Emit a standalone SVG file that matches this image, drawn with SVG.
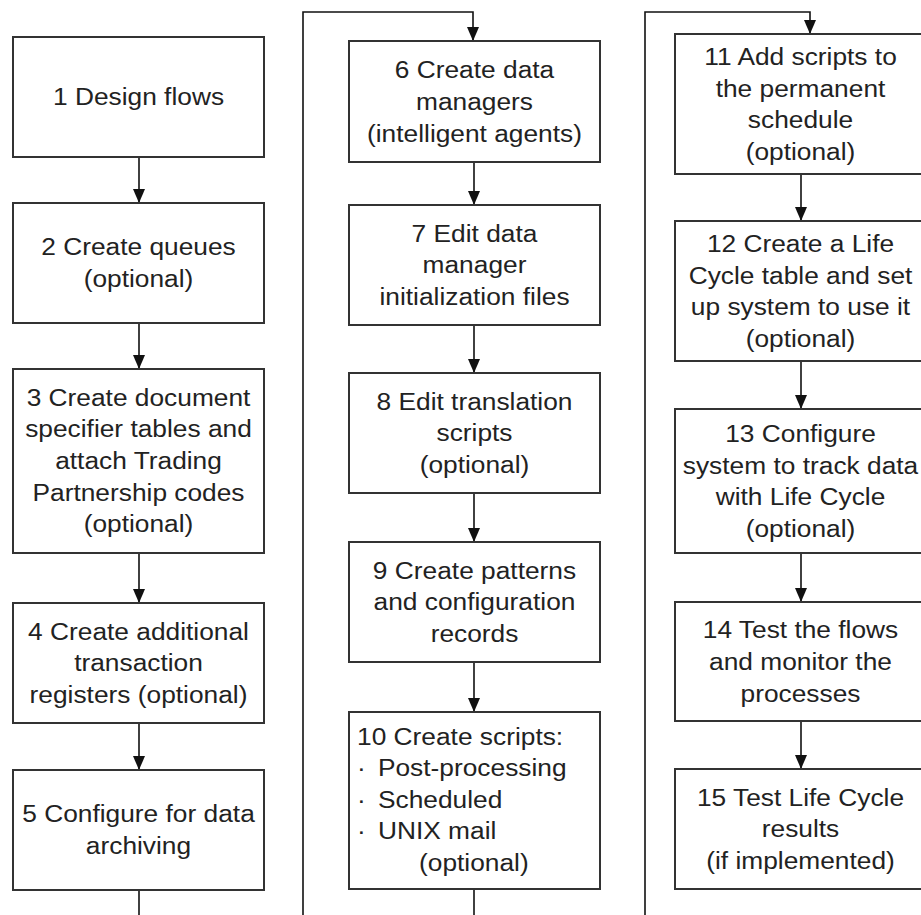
<svg xmlns="http://www.w3.org/2000/svg" width="921" height="915" viewBox="0 0 921 915">
<style>
.box{fill:#fff;stroke:#333;stroke-width:2}
.t{font-family:"Liberation Sans",Arial,sans-serif;font-size:23.5px;fill:#222;text-anchor:middle}
.l{text-anchor:start}
.c{fill:none;stroke:#111;stroke-width:1.6}
</style>
<defs>
<marker id="ah" viewBox="0 0 14 12" refX="14" refY="6" markerWidth="14" markerHeight="12" markerUnits="userSpaceOnUse" orient="auto">
<path d="M0,0 L14,6 L0,12 z" fill="#111"/>
</marker>
</defs>
<rect width="921" height="915" fill="#fff"/>
<g id="connectors">
<line class="c" x1="139" y1="157" x2="139" y2="203" marker-end="url(#ah)"/>
<line class="c" x1="139" y1="323" x2="139" y2="369" marker-end="url(#ah)"/>
<line class="c" x1="139" y1="553" x2="139" y2="603" marker-end="url(#ah)"/>
<line class="c" x1="139" y1="723" x2="139" y2="770" marker-end="url(#ah)"/>
<line class="c" x1="139" y1="890" x2="139" y2="915"/>
<path class="c" d="M303,915 V12 H473 V41" marker-end="url(#ah)"/>
<line class="c" x1="474" y1="162" x2="474" y2="205" marker-end="url(#ah)"/>
<line class="c" x1="474" y1="325" x2="474" y2="373" marker-end="url(#ah)"/>
<line class="c" x1="474" y1="493" x2="474" y2="542" marker-end="url(#ah)"/>
<line class="c" x1="474" y1="662" x2="474" y2="712" marker-end="url(#ah)"/>
<line class="c" x1="474" y1="889" x2="474" y2="915"/>
<path class="c" d="M645,915 V12 H810 V34" marker-end="url(#ah)"/>
<line class="c" x1="801" y1="174" x2="801" y2="221" marker-end="url(#ah)"/>
<line class="c" x1="801" y1="361" x2="801" y2="409" marker-end="url(#ah)"/>
<line class="c" x1="801" y1="553" x2="801" y2="602" marker-end="url(#ah)"/>
<line class="c" x1="801" y1="721" x2="801" y2="769" marker-end="url(#ah)"/>
</g>
<g id="n1"><rect class="box" x="13" y="37" width="251" height="120"/>
<text class="t" transform="translate(138.5 0) scale(1.12 1)"><tspan x="0" y="105.4">1 Design flows</tspan></text></g>
<g id="n2"><rect class="box" x="13" y="203" width="251" height="120"/>
<text class="t" transform="translate(138.5 0) scale(1.12 1)"><tspan x="0" y="255.5">2 Create queues</tspan><tspan x="0" y="287.2">(optional)</tspan></text></g>
<g id="n3"><rect class="box" x="13" y="369" width="251" height="184"/>
<text class="t" transform="translate(138.5 0) scale(1.12 1)"><tspan x="0" y="405.6">3 Create document</tspan><tspan x="0" y="437.3">specifier tables and</tspan><tspan x="0" y="469">attach Trading</tspan><tspan x="0" y="500.7">Partnership codes</tspan><tspan x="0" y="532.4">(optional)</tspan></text></g>
<g id="n4"><rect class="box" x="13" y="603" width="251" height="120"/>
<text class="t" transform="translate(138.5 0) scale(1.12 1)"><tspan x="0" y="639.7">4 Create additional</tspan><tspan x="0" y="671.4">transaction</tspan><tspan x="0" y="703.1">registers (optional)</tspan></text></g>
<g id="n5"><rect class="box" x="13" y="770" width="251" height="120"/>
<text class="t" transform="translate(138.5 0) scale(1.12 1)"><tspan x="0" y="822.5">5 Configure for data</tspan><tspan x="0" y="854.2">archiving</tspan></text></g>
<g id="n6"><rect class="box" x="349" y="41" width="251" height="121"/>
<text class="t" transform="translate(474.5 0) scale(1.12 1)"><tspan x="0" y="78.2">6 Create data</tspan><tspan x="0" y="109.9">managers</tspan><tspan x="0" y="141.6">(intelligent agents)</tspan></text></g>
<g id="n7"><rect class="box" x="349" y="205" width="251" height="120"/>
<text class="t" transform="translate(474.5 0) scale(1.12 1)"><tspan x="0" y="241.7">7 Edit data</tspan><tspan x="0" y="273.4">manager</tspan><tspan x="0" y="305.1">initialization files</tspan></text></g>
<g id="n8"><rect class="box" x="349" y="373" width="251" height="120"/>
<text class="t" transform="translate(474.5 0) scale(1.12 1)"><tspan x="0" y="409.7">8 Edit translation</tspan><tspan x="0" y="441.4">scripts</tspan><tspan x="0" y="473.1">(optional)</tspan></text></g>
<g id="n9"><rect class="box" x="349" y="542" width="251" height="120"/>
<text class="t" transform="translate(474.5 0) scale(1.12 1)"><tspan x="0" y="578.7">9 Create patterns</tspan><tspan x="0" y="610.4">and configuration</tspan><tspan x="0" y="642.1">records</tspan></text></g>
<g id="n10"><rect class="box" x="349" y="712" width="251" height="177"/>
<text class="t l" transform="translate(357 0) scale(1.12 1)"><tspan x="0" y="745">10 Create scripts:</tspan><tspan x="0" y="776.5">·</tspan><tspan x="18.7" y="776.5">Post-processing</tspan><tspan x="0" y="808">·</tspan><tspan x="18.7" y="808">Scheduled</tspan><tspan x="0" y="839.5">·</tspan><tspan x="18.7" y="839.5">UNIX mail</tspan><tspan x="55.4" y="871">(optional)</tspan></text></g>
<g id="n11"><rect class="box" x="675" y="34" width="251" height="140"/>
<text class="t" transform="translate(800.5 0) scale(1.12 1)"><tspan x="0" y="64.9">11 Add scripts to</tspan><tspan x="0" y="96.6">the permanent</tspan><tspan x="0" y="128.3">schedule</tspan><tspan x="0" y="160">(optional)</tspan></text></g>
<g id="n12"><rect class="box" x="675" y="221" width="251" height="140"/>
<text class="t" transform="translate(800.5 0) scale(1.12 1)"><tspan x="0" y="251.9">12 Create a Life</tspan><tspan x="0" y="283.6">Cycle table and set</tspan><tspan x="0" y="315.3">up system to use it</tspan><tspan x="0" y="347">(optional)</tspan></text></g>
<g id="n13"><rect class="box" x="675" y="409" width="251" height="144"/>
<text class="t" transform="translate(800.5 0) scale(1.12 1)"><tspan x="0" y="441.9">13 Configure</tspan><tspan x="0" y="473.6">system to track data</tspan><tspan x="0" y="505.3">with Life Cycle</tspan><tspan x="0" y="537">(optional)</tspan></text></g>
<g id="n14"><rect class="box" x="675" y="602" width="251" height="119"/>
<text class="t" transform="translate(800.5 0) scale(1.12 1)"><tspan x="0" y="638.2">14 Test the flows</tspan><tspan x="0" y="669.9">and monitor the</tspan><tspan x="0" y="701.6">processes</tspan></text></g>
<g id="n15"><rect class="box" x="675" y="769" width="251" height="120"/>
<text class="t" transform="translate(800.5 0) scale(1.12 1)"><tspan x="0" y="805.7">15 Test Life Cycle</tspan><tspan x="0" y="837.4">results</tspan><tspan x="0" y="869.1">(if implemented)</tspan></text></g>
</svg>
